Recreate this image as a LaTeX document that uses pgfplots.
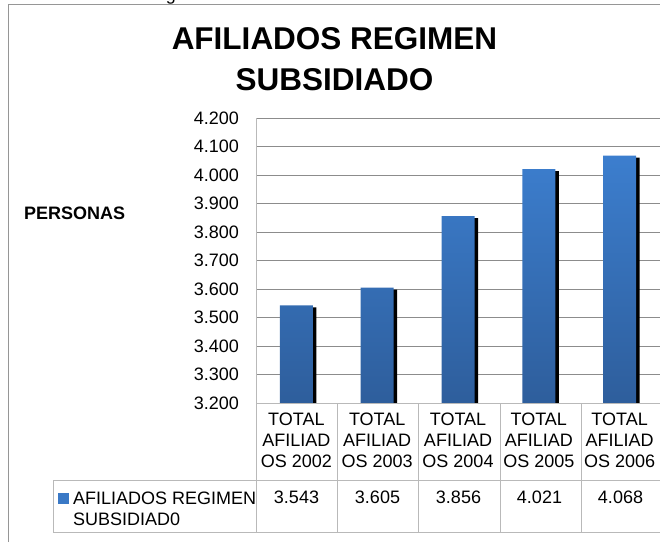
\documentclass[border=0pt]{standalone}
\usepackage{pgfplots}
\pgfplotsset{compat=1.18}
\usepackage{fontspec}
\setmainfont{Liberation Sans}
\definecolor{gridgray}{RGB}{140,140,140}
\definecolor{tablegray}{RGB}{185,185,185}
\definecolor{framegray}{RGB}{150,150,150}
\definecolor{bartop}{RGB}{60,126,206}
\definecolor{barbot}{RGB}{46,94,156}
\pgfplotstableread{
x y
0 3543
1 3605
2 3856
3 4021
4 4068
}\data
\begin{document}
\begin{tikzpicture}
\useasboundingbox (0pt,0pt) rectangle (660pt,-542pt);
% partial text cut by the page top
\node[anchor=base, inner sep=0pt, font=\fontsize{18}{18}\selectfont] at (171pt,-0.5pt) {g};
% outer frame
\draw[framegray, line width=1pt] (8pt,-542pt) -- (8pt,-4pt) -- (662pt,-4pt);
% title
\node[anchor=base, inner sep=0pt, font=\fontsize{31.5}{31.5}\bfseries] at (334.5pt,-49pt) {AFILIADOS REGIMEN};
\node[anchor=base, inner sep=0pt, font=\fontsize{31.5}{31.5}\bfseries] at (334.5pt,-90.7pt) {SUBSIDIADO};
% y label
\node[anchor=base west, inner sep=0pt, font=\fontsize{18}{18}\bfseries] at (24pt,-219.5pt) {PERSONAS};
\begin{axis}[
  at={(256pt,-403pt)}, anchor=south west,
  scale only axis, width=404pt, height=285pt,
  xmin=-0.5, xmax=4.5, ymin=3200, ymax=4200,
  y coord trafo/.code={\pgfmathparse{#1-3200}},
  y coord inv trafo/.code={\pgfmathparse{#1+3200}},
  ytick={3200,3300,3400,3500,3600,3700,3800,3900,4000,4100,4200},
  yticklabels={3.200,3.300,3.400,3.500,3.600,3.700,3.800,3.900,4.000,4.100,4.200},
  xtick={0,1,2,3,4},
  xticklabels={{TOTAL\\AFILIAD\\OS 2002},{TOTAL\\AFILIAD\\OS 2003},{TOTAL\\AFILIAD\\OS 2004},{TOTAL\\AFILIAD\\OS 2005},{TOTAL\\AFILIAD\\OS 2006}},
  xticklabel style={align=center, anchor=north, inner sep=0pt, yshift=-9.5pt, font=\fontsize{18}{21.3}\selectfont},
  yticklabel style={anchor=east, inner sep=0pt, xshift=-17pt, font=\fontsize{18}{18}\selectfont},
  major tick length=0pt,
  axis line style={draw=none},
  ymajorgrids, grid style={gridgray, line width=1pt},
]
\addplot[ybar, bar width=33pt, bar shift=3.5pt, fill=black, draw=none, yshift=-2pt] table[x=x,y=y]{\data};
\addplot[ybar, bar width=33pt, bar shift=0pt, draw=none, top color=bartop, bottom color=barbot] table[x=x,y=y]{\data};
\end{axis}
% axis box / table lines
\draw[tablegray, line width=1pt] (256pt,-118pt) -- (256pt,-532pt);
\draw[tablegray, line width=1pt] (256pt,-403pt) -- (662pt,-403pt);
\foreach \xx in {337,418,500,581} \draw[tablegray, line width=1pt] (\xx pt,-403pt) -- (\xx pt,-532pt);
\draw[tablegray, line width=1pt] (53pt,-480pt) -- (662pt,-480pt);
\draw[tablegray, line width=1pt] (53pt,-532pt) -- (662pt,-532pt);
\draw[tablegray, line width=1pt] (53pt,-480pt) -- (53pt,-532pt);
% legend key and data row
\fill[bartop!85!barbot] (58pt,-493pt) rectangle (69pt,-504pt);
\node[anchor=base west, inner sep=0pt, font=\fontsize{18}{18}\selectfont] at (73pt,-504pt) {AFILIADOS REGIMEN};
\node[anchor=base west, inner sep=0pt, font=\fontsize{18}{18}\selectfont] at (73pt,-525pt) {SUBSIDIAD0};
\foreach \xx/\vv in {296.5/3.543, 377.5/3.605, 458.5/3.856, 539.5/4.021, 620.5/4.068}
  \node[anchor=base, inner sep=0pt, font=\fontsize{18}{18}\selectfont] at (\xx pt,-503pt) {\vv};
\end{tikzpicture}
\end{document}
